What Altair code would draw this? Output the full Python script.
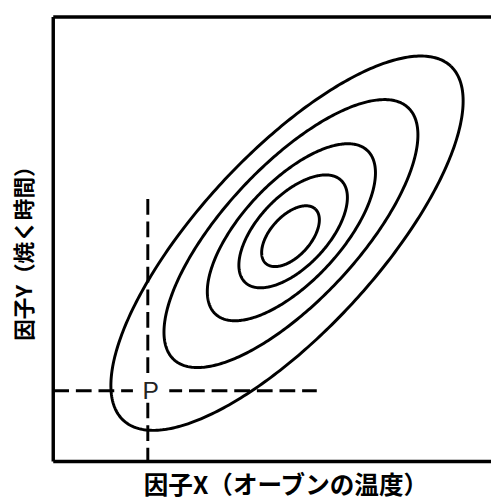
import numpy as np
import pandas as pd
import altair as alt

# ---- data (x domain 0-100, y domain 0-101.6, isotropic) ----
ell_id = [1, 2, 3, 4, 5]
ell_cx = [54.2, 54.8, 54.4, 54.3, 53.4]
ell_cy = [51.5, 52.6, 52.4, 52.1, 49.9]
ell_a = [8.4, 16.0, 25.5, 39.3, 55.1]      # semi-major
ell_b = [4.6, 8.0, 11.3, 15.3, 20.3]       # semi-minor
ell_angle = [47.8, 46.9, 47.2, 47.1, 47.3]  # degrees

p_x = [21.6]          # point P, factor X
p_y = [16.2]          # point P, factor Y
v_top = [60.0]        # top of vertical dashed guide
h_right = [60.2]      # right end of horizontal dashed guide
p_label = ["P"]
p_label_x = [20.4]
p_label_y = [14.4]
p_box_x = [18.2]
p_box_x2 = [26.5]
p_box_y = [13.5]
p_box_y2 = [20.2]
x_title = "因子X（オーブンの温度）"
y_title = "因子Y（焼く時間）"

XMIN, XMAX = 0, 100
YMIN, YMAX = 0, 101.6

# ---- build tables ----
rows = []
t = np.linspace(0, 2 * np.pi, 361)
for i, cx, cy, a, b, ang in zip(ell_id, ell_cx, ell_cy, ell_a, ell_b, ell_angle):
    th = np.deg2rad(ang)
    xs = cx + a * np.cos(t) * np.cos(th) - b * np.sin(t) * np.sin(th)
    ys = cy + a * np.cos(t) * np.sin(th) + b * np.sin(t) * np.cos(th)
    for k, (xx, yy) in enumerate(zip(xs, ys)):
        rows.append({"id": i, "k": k, "x": xx, "y": yy})
ell_df = pd.DataFrame(rows)

frame_df = pd.DataFrame({
    "x": [XMIN, XMIN, XMIN], "y": [YMIN, YMAX, YMIN],
    "x2": [XMIN, XMAX, XMAX], "y2": [YMAX, YMAX, YMIN],
})
vdash_df = pd.DataFrame({"x": p_x, "y": v_top, "x2": p_x, "y2": [YMIN]})
hdash_df = pd.DataFrame({"x": [XMIN], "y": p_y, "x2": h_right, "y2": p_y})
box_df = pd.DataFrame({"x": p_box_x, "x2": p_box_x2, "y": p_box_y, "y2": p_box_y2})
lab_df = pd.DataFrame({"x": p_label_x, "y": p_label_y, "t": p_label})

xs_ = alt.Scale(domain=[XMIN, XMAX], nice=False, zero=False)
ys_ = alt.Scale(domain=[YMIN, YMAX], nice=False, zero=False)
xaxis = alt.Axis(labels=False, ticks=False, domain=False, grid=False,
                 titleFont="Noto Sans CJK JP", titleFontSize=25, titleFontWeight="bold",
                 titleColor="black", titleX=236, titleY=32, titleAlign="center",
                 titleBaseline="alphabetic")
yaxis = alt.Axis(labels=False, ticks=False, domain=False, grid=False,
                 titleFont="Noto Sans CJK JP", titleFontSize=22, titleFontWeight="bold",
                 titleColor="black", titleAngle=270, titleX=-22, titleY=234.5,
                 titleAlign="center", titleBaseline="alphabetic")


def X():
    return alt.X("x:Q", scale=xs_, axis=xaxis, title=x_title)


def Y():
    return alt.Y("y:Q", scale=ys_, axis=yaxis, title=y_title)


frame = alt.Chart(frame_df).mark_rule(color="black", strokeWidth=3.5).encode(
    x=X(), y=Y(), x2="x2:Q", y2="y2:Q")
vdash = alt.Chart(vdash_df).mark_rule(color="black", strokeWidth=3, strokeDash=[16, 7]).encode(
    x=X(), y=Y(), x2="x2:Q", y2="y2:Q")
hdash = alt.Chart(hdash_df).mark_rule(color="black", strokeWidth=3, strokeDash=[16, 7]).encode(
    x=X(), y=Y(), x2="x2:Q", y2="y2:Q")
ells = alt.Chart(ell_df).mark_line(color="black", strokeWidth=3, strokeJoin="round").encode(
    x=X(), y=Y(), detail="id:N", order="k:Q")
box = alt.Chart(box_df).mark_rect(color="white", opacity=1).encode(
    x=X(), y=Y(), x2="x2:Q", y2="y2:Q")
lab = alt.Chart(lab_df).mark_text(font="Liberation Sans", fontSize=25, color="#222",
                                  align="left", baseline="alphabetic").encode(
    x=X(), y=Y(), text="t:N")

chart = alt.layer(frame, vdash, hdash, ells, box, lab).properties(
    width=445, height=452,
    autosize=alt.AutoSizeParams(type="none"),
    padding={"left": 46, "top": 5, "right": 0, "bottom": 36},
).configure_view(stroke=None)

chart.save("out.html", embed_options={"renderer": "svg", "actions": False})
